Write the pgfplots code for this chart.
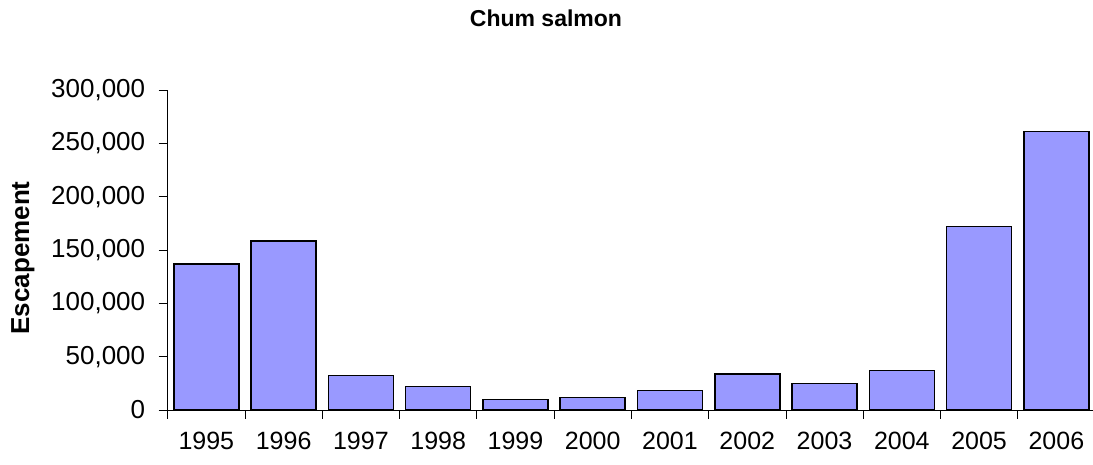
\documentclass[border=0pt]{standalone}
\usepackage{pgfplots}
\pgfplotsset{compat=1.18}
\usepackage{fontspec}
\setmainfont{Liberation Sans}
\definecolor{barfill}{HTML}{9999FF}
\begin{document}
\begin{tikzpicture}[x=1pt,y=1pt]
\path[use as bounding box] (0,0) rectangle (1093,465);
\begin{axis}[
  at={(167.7pt,55pt)}, anchor=south west,
  scale only axis, width=927.3pt, height=320pt,
  xmin=-0.5, xmax=11.5, ymin=0, ymax=300000,
  axis x line*=bottom, axis y line*=left,
  axis line style={-, black, line width=0.8pt},
  xtick={-0.5,0.5,...,11.5},
  x tick label as interval,
  xticklabels={1995,1996,1997,1998,1999,2000,2001,2002,2003,2004,2005,2006},
  ytick={0,50000,100000,150000,200000,250000,300000},
  scaled y ticks=false,
  /pgf/number format/fixed,
  /pgf/number format/1000 sep={,},
  /pgf/number format/assume math mode=true,
  tick align=outside, major tick length=9pt,
  tick style={black, line width=0.8pt},
  xticklabel style={font=\fontsize{25}{29}\selectfont, yshift=-10pt},
  yticklabel style={font=\fontsize{26}{30}\selectfont, xshift=-10pt},
]
\addplot[ybar, bar width=65pt, fill=barfill, draw=black, line width=1.6pt]
  coordinates {(0,137000) (1,158400) (2,32200) (3,21900) (4,10000) (5,11600)
               (6,18100) (7,33700) (8,25000) (9,36900) (10,171900) (11,260900)};
\end{axis}
\node[font=\fontsize{23}{27}\selectfont\bfseries] at (546,446.5) {Chum salmon};
\node[font=\fontsize{26}{30}\selectfont\bfseries, rotate=90] at (23,207) {Escapement};
\end{tikzpicture}
\end{document}
